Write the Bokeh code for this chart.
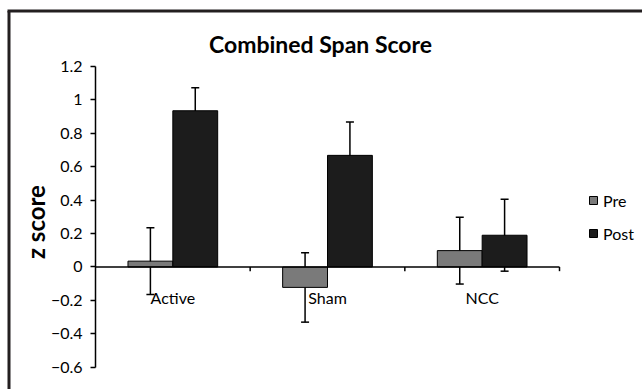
import math
from bokeh.plotting import figure
from bokeh.models import (Range1d, ColumnDataSource, Whisker, TeeHead, Legend, LegendItem,
                          FixedTicker)
from bokeh.core.properties import value
from bokeh.embed import file_html
from bokeh.resources import INLINE

categories = ["Active", "Sham", "NCC"]
pre_values = [0.035, -0.122, 0.098]
pre_errors = [0.200, 0.208, 0.200]
post_values = [0.935, 0.668, 0.190]
post_errors = [0.138, 0.200, 0.215]
y_ticks = [-0.6, -0.4, -0.2, 0, 0.2, 0.4, 0.6, 0.8, 1, 1.2]
y_tick_labels = ["\u22120.6", "\u22120.4", "\u22120.2", "0", "0.2", "0.4", "0.6", "0.8", "1", "1.2"]
series_names = ["Pre", "Post"]
title_text = "Combined Span Score"
y_label_text = "z score"

FONT = "Lato"
n = len(categories)
centers = [i + 0.5 for i in range(n)]
off = 0.145
bw = 0.29

W, H = 642, 389
x0, x1 = -0.6142, 3.5366
y0, y1 = -0.7331, 1.5948
px_x = W / (x1 - x0)
px_y = H / (y1 - y0)

p = figure(width=W, height=H, output_backend="svg", toolbar_location=None,
           x_range=Range1d(x0, x1), y_range=Range1d(y0, y1),
           x_axis_location=None, min_border=0, min_border_left=0, min_border_right=0,
           min_border_top=0, min_border_bottom=0)
p.outline_line_color = None
p.grid.visible = False
p.background_fill_color = "white"
p.border_fill_color = "white"

# y axis fixed at x = 0
yax = p.yaxis[0]
yax.fixed_location = 0
yax.bounds = (y_ticks[0], y_ticks[-1])
yax.ticker = FixedTicker(ticks=y_ticks)
yax.major_label_overrides = {t: l for t, l in zip(y_ticks, y_tick_labels)}
yax.minor_tick_line_color = None
yax.major_tick_in = 0
yax.major_tick_out = 5
yax.major_tick_line_width = 1.5
yax.axis_line_width = 1.5
yax.axis_line_color = "black"
yax.major_tick_line_color = "black"
yax.major_label_text_font = FONT
yax.major_label_text_font_size = "16px"
yax.major_label_text_color = "black"
yax.major_label_standoff = 8

# outer frame (top and left edges of the chart box)
bx = x0 + 8.5 / px_x
by = y1 - 10.5 / px_y
p.segment(x0=[bx], y0=[y0], x1=[bx], y1=[by], line_color="#231f20", line_width=3)
p.segment(x0=[bx - 1.5 / px_x], y0=[by], x1=[x1], y1=[by], line_color="#231f20", line_width=3)

pre_x = [c - off for c in centers]
post_x = [c + off for c in centers]
src_pre = ColumnDataSource(dict(x=pre_x, top=pre_values,
                                upper=[v + e for v, e in zip(pre_values, pre_errors)],
                                lower=[v - e for v, e in zip(pre_values, pre_errors)]))
src_post = ColumnDataSource(dict(x=post_x, top=post_values,
                                 upper=[v + e for v, e in zip(post_values, post_errors)],
                                 lower=[v - e for v, e in zip(post_values, post_errors)]))

r_pre = p.vbar(x="x", top="top", bottom=0, width=bw, source=src_pre,
               fill_color="#7a7a7a", line_color="black", line_width=1)
r_post = p.vbar(x="x", top="top", bottom=0, width=bw, source=src_post,
                fill_color="#1c1c1c", line_color="black", line_width=1)

# category axis drawn at zero
p.segment(x0=[0], y0=[0], x1=[n], y1=[0], line_color="black", line_width=1.5)
p.segment(x0=list(range(1, n + 1)), y0=[0] * n, x1=list(range(1, n + 1)), y1=[-0.025] * n,
          line_color="black", line_width=1.5)

for src in (src_pre, src_post):
    w = Whisker(base="x", upper="upper", lower="lower", source=src, dimension="height",
                line_color="black", line_width=1.5,
                upper_head=TeeHead(size=8, line_width=1.5, line_color="black"),
                lower_head=TeeHead(size=8, line_width=1.5, line_color="black"))
    p.add_layout(w)

p.text(x=centers, y=[-0.185] * n, text=categories, text_align="center",
       text_baseline="middle", text_font=value(FONT), text_font_size="16px",
       text_color="black")

p.text(x=[1.455], y=[1.336], text=[title_text], text_align="center",
       text_baseline="alphabetic", text_font=value(FONT), text_font_style="bold",
       text_font_size="23px", text_color="black")

p.text(x=[-0.388], y=[0.269], text=[y_label_text], angle=math.pi / 2,
       text_align="center", text_baseline="middle", text_font=value(FONT),
       text_font_style="bold", text_font_size="24px", text_color="black")

legend = Legend(items=[LegendItem(label=series_names[0], renderers=[r_pre]),
                       LegendItem(label=series_names[1], renderers=[r_post])],
                location=(588, 146), glyph_width=10, glyph_height=10,
                label_height=20, spacing=13, padding=0, margin=0,
                label_standoff=5, border_line_color=None, background_fill_alpha=0,
                label_text_font=FONT, label_text_font_size="16px", label_text_color="black")
p.add_layout(legend)

open("out.html", "w").write(file_html(p, INLINE))
